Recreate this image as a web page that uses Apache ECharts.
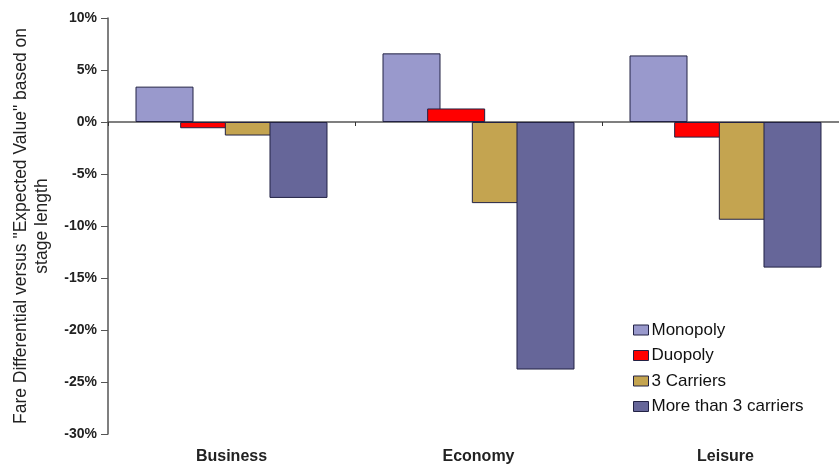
<!DOCTYPE html>
<html>
<head>
<meta charset="utf-8">
<script src="https://cdn.jsdelivr.net/npm/echarts@6/dist/echarts.min.js"></script>
<style>
  html, body { margin: 0; padding: 0; background: #fff; }
  #chart { width: 839px; height: 469px; }
</style>
</head>
<body>
<div id="chart"></div>
<script>
// Fare segments and their differentials (%) by market structure
var categories = ['Business', 'Economy', 'Leisure'];
var monopoly = [3.4, 6.6, 6.4];
var duopoly = [-0.6, 1.3, -1.5];
var threeCarriers = [-1.3, -7.8, -9.4];
var moreThanThree = [-7.3, -23.8, -14.0];
var seriesNames = ['Monopoly', 'Duopoly', '3 Carriers', 'More than 3 carriers'];
var seriesColors = ['#9999cc', '#ff0000', '#c4a450', '#666699'];

var values = [monopoly, duopoly, threeCarriers, moreThanThree];

var chart = echarts.init(document.getElementById('chart'));

var series = values.map(function (data, i) {
  return {
    name: seriesNames[i],
    type: 'bar',
    data: data,
    barWidth: 58,
    barGap: '-23%',
    itemStyle: { color: seriesColors[i], borderColor: '#222244', borderWidth: 1 }
  };
});

chart.setOption({
  animation: false,
  backgroundColor: '#ffffff',
  textStyle: { fontFamily: 'Liberation Sans, Arial, sans-serif' },
  grid: { left: 108, top: 18, width: 741, height: 416, containLabel: false, outerBoundsMode: 'none' },
  legend: {
    orient: 'vertical',
    left: 628,
    top: 316,
    itemWidth: 15,
    itemHeight: 10,
    itemGap: 7.5,
    icon: 'rect',
    data: seriesNames,
    itemStyle: { borderColor: '#222244', borderWidth: 1 },
    textStyle: { fontSize: 17, lineHeight: 18, color: '#111', fontFamily: 'Liberation Sans, Arial, sans-serif', padding: [0, 0, 0, -2] }
  },
  xAxis: [
    {
      type: 'category',
      data: categories,
      axisLine: { onZero: true, lineStyle: { color: '#555', width: 1.5 } },
      axisTick: { show: true, inside: false, length: 4, lineStyle: { color: '#333' } },
      axisLabel: { show: false }
    },
    {
      type: 'category',
      data: categories,
      position: 'bottom',
      axisLine: { show: false },
      axisTick: { show: false },
      axisLabel: { show: true, margin: 15, fontSize: 16, fontWeight: 'bold', color: '#222' }
    }
  ],
  yAxis: {
    type: 'value',
    min: -30,
    max: 10,
    interval: 5,
    name: 'Fare Differential versus "Expected Value" based on\nstage length',
    nameLocation: 'middle',
    nameGap: 55,
    nameTextStyle: { fontSize: 17.5, color: '#222', lineHeight: 21 },
    axisLine: { show: true, lineStyle: { color: '#555', width: 1.5 } },
    axisTick: { show: true, length: 7, lineStyle: { color: '#555' } },
    axisLabel: { formatter: '{value}%', fontSize: 14, fontWeight: 'bold', color: '#222', margin: 11 },
    splitLine: { show: false }
  },
  series: series
});
</script>
</body>
</html>
